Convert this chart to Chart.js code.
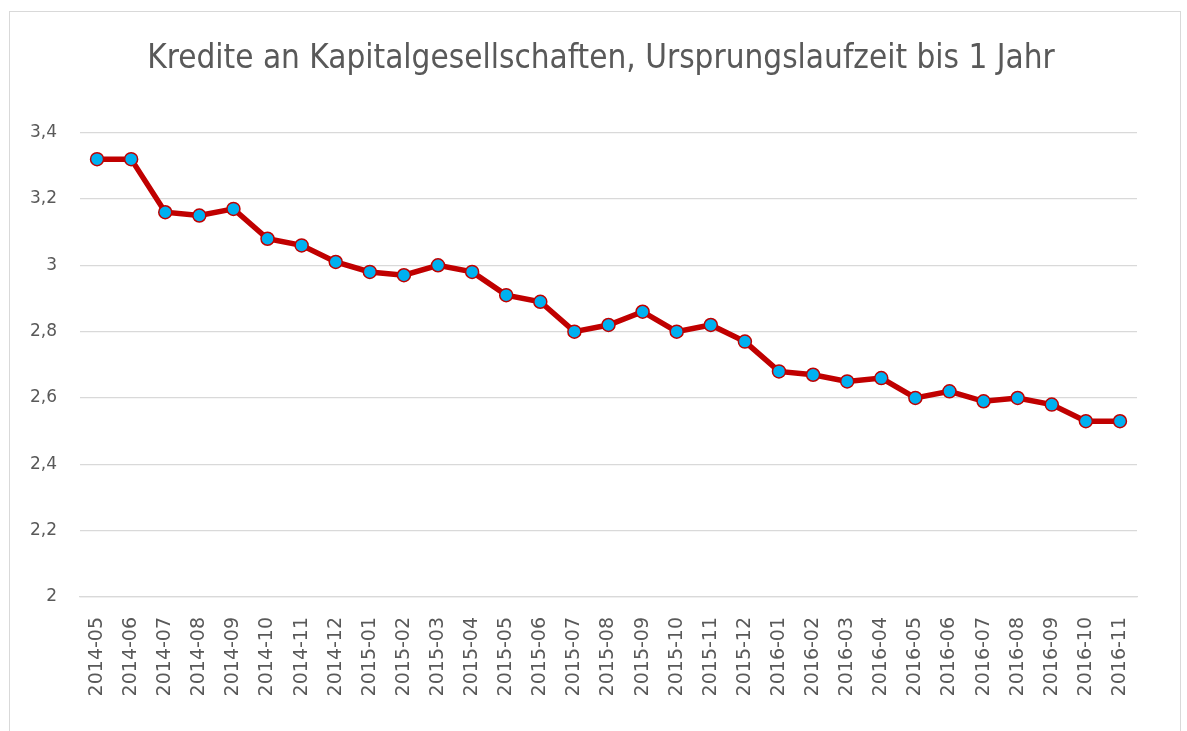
<!DOCTYPE html>
<html>
<head>
<meta charset="utf-8">
<script src="https://cdn.jsdelivr.net/npm/chart.js@4.4.1/dist/chart.umd.min.js"></script>
<style>
  html, body { margin: 0; padding: 0; background: #ffffff; }
  #wrap { position: relative; width: 1187px; height: 731px; overflow: hidden; }
  #c { position: absolute; left: 0; top: 0; }
  #frame { position: absolute; left: 9px; top: 11px; width: 1170px; height: 760px; border: 1px solid #d9d9d9; pointer-events: none; }
</style>
</head>
<body>
<div id="wrap">
  <canvas id="c" width="1187" height="731"></canvas>
  <div id="frame"></div>
</div>
<script>
const titleText = "Kredite an Kapitalgesellschaften, Ursprungslaufzeit bis 1 Jahr";
const categories = [
  "2014-05","2014-06","2014-07","2014-08","2014-09","2014-10","2014-11","2014-12",
  "2015-01","2015-02","2015-03","2015-04","2015-05","2015-06","2015-07","2015-08",
  "2015-09","2015-10","2015-11","2015-12","2016-01","2016-02","2016-03","2016-04",
  "2016-05","2016-06","2016-07","2016-08","2016-09","2016-10","2016-11"
];
const values = [
  3.32, 3.32, 3.16, 3.15, 3.17, 3.08, 3.06, 3.01,
  2.98, 2.97, 3.00, 2.98, 2.91, 2.89, 2.80, 2.82,
  2.86, 2.80, 2.82, 2.77, 2.68, 2.67, 2.65, 2.66,
  2.60, 2.62, 2.59, 2.60, 2.58, 2.53, 2.53
];
const yMin = 2;
const yMax = 3.4;
const yStep = 0.2;

const tickFont = "'DejaVu Sans', sans-serif";
const titleFont = "'Liberation Sans Narrow', 'DejaVu Sans Condensed', 'Liberation Sans', sans-serif";

new Chart(document.getElementById('c'), {
  type: 'line',
  data: {
    labels: categories,
    datasets: [{
      data: values,
      borderColor: '#C00000',
      borderWidth: 5.5,
      tension: 0,
      pointRadius: 6.5,
      pointHoverRadius: 6.5,
      pointBorderWidth: 1.5,
      pointBackgroundColor: '#00B0F0',
      pointBorderColor: '#C00000',
      fill: false
    }]
  },
  options: {
    responsive: false,
    devicePixelRatio: 1,
    animation: false,
    layout: { padding: { left: 15, right: 0, top: 0, bottom: 0 } },
    plugins: {
      legend: { display: false },
      tooltip: { enabled: false },
      title: {
        display: true,
        text: titleText,
        color: '#595959',
        font: { family: titleFont, size: 33, weight: 'normal' },
        padding: { top: 40, bottom: 53 }
      }
    },
    scales: {
      x: {
        offset: true,
        grid: { display: false },
        border: { display: true, color: '#d9d9d9', width: 1.3 },
        ticks: {
          color: '#595959',
          font: { family: tickFont, size: 19 },
          minRotation: 90,
          maxRotation: 90,
          autoSkip: false,
          padding: 12
        },
        afterFit: (s) => { s.height = 134; }
      },
      y: {
        min: yMin,
        max: yMax,
        grid: { color: '#d9d9d9', lineWidth: 1.3, drawTicks: false },
        border: { display: false },
        ticks: {
          stepSize: yStep,
          color: '#595959',
          font: { family: tickFont, size: 17 },
          padding: 23,
          callback: (v) => String(Math.round(v * 10) / 10).replace('.', ',')
        },
        afterFit: (s) => { s.width = 65; }
      },
      yRight: {
        position: 'right',
        display: true,
        grid: { display: false },
        border: { display: false },
        ticks: { display: false },
        afterFit: (s) => { s.width = 50; }
      }
    }
  }
});
</script>
</body>
</html>
